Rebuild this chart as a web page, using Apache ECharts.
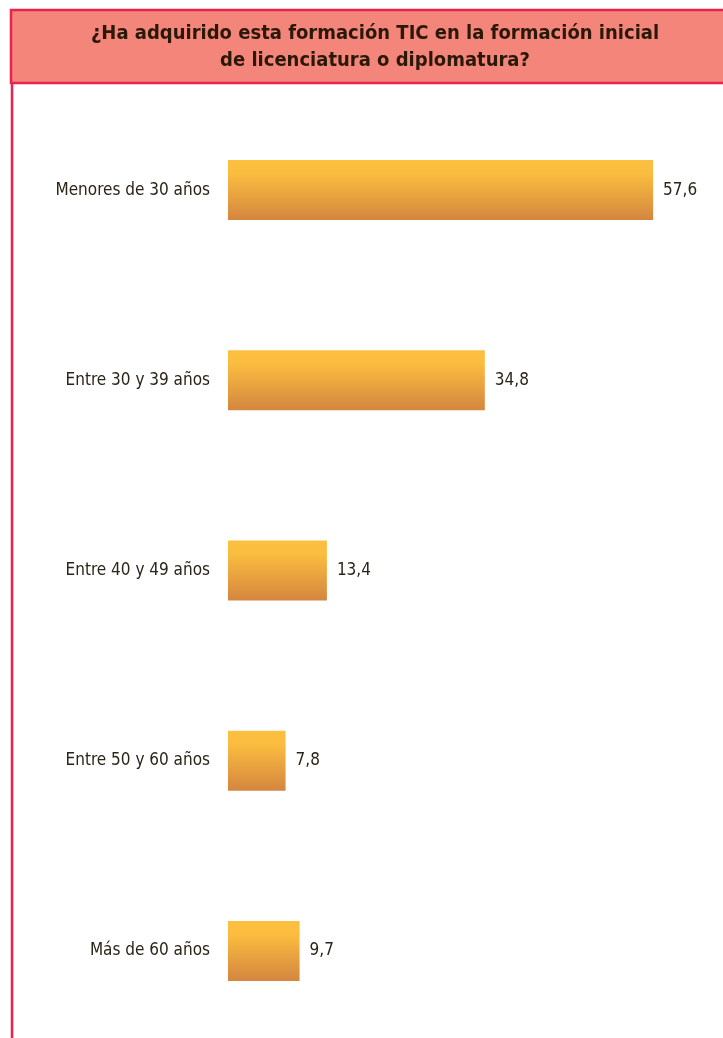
<!DOCTYPE html>
<html>
<head>
<meta charset="utf-8">
<script src="https://cdn.jsdelivr.net/npm/echarts@6/dist/echarts.min.js"></script>
<style>
html,body{margin:0;padding:0;background:#fff;}
#c{width:723px;height:1038px;}
</style>
</head>
<body>
<div id="c"></div>
<script>
const titleLines = ['¿Ha adquirido esta formación TIC en la formación inicial', 'de licenciatura o diplomatura?'];
const categories = ['Menores de 30 años', 'Entre 30 y 39 años', 'Entre 40 y 49 años', 'Entre 50 y 60 años', 'Más de 60 años'];
const values = [57.6, 34.8, 13.4, 7.8, 9.7];

const FONT = '"Liberation Sans Narrow", "DejaVu Sans Condensed", "Roboto", sans-serif';
const chart = echarts.init(document.getElementById('c'));
chart.setOption({
  backgroundColor: '#ffffff',
  animation: false,
  graphic: [
    { type: 'rect', shape: { x: 11, y: 10, width: 730, height: 73 },
      style: { fill: '#f4857b', stroke: '#e8234d', lineWidth: 2.5 } },
    { type: 'line', shape: { x1: 12, y1: 83, x2: 12, y2: 1040 },
      style: { stroke: '#e8234d', lineWidth: 2.5 } },
    { type: 'text', x: 375, y: 47, style: {
        text: titleLines.join('\n'), align: 'center', verticalAlign: 'middle',
        font: 'bold 20px ' + FONT, fill: '#2a1808', lineHeight: 27 } }
  ],
  grid: { left: 228, top: 95, height: 951, width: 442.8, containLabel: false, outerBoundsMode: 'none' },
  xAxis: { type: 'value', min: 0, max: 60, show: false },
  yAxis: {
    type: 'category', data: categories, inverse: true,
    axisLine: { show: false }, axisTick: { show: false },
    axisLabel: { margin: 18, fontFamily: FONT, fontSize: 17, color: '#2b2418' }
  },
  series: [{
    type: 'bar', data: values, barWidth: 60,
    itemStyle: { color: new echarts.graphic.LinearGradient(0, 0, 0, 1, [
      { offset: 0, color: '#fcc040' }, { offset: 0.22, color: '#fbbd3f' }, { offset: 1, color: '#d4863f' }
    ]) },
    label: { show: true, position: 'right', distance: 10, fontFamily: FONT, fontSize: 17, color: '#2b2418',
      formatter: p => p.value.toFixed(1).replace('.', ',') }
  }]
});
</script>
</body>
</html>
